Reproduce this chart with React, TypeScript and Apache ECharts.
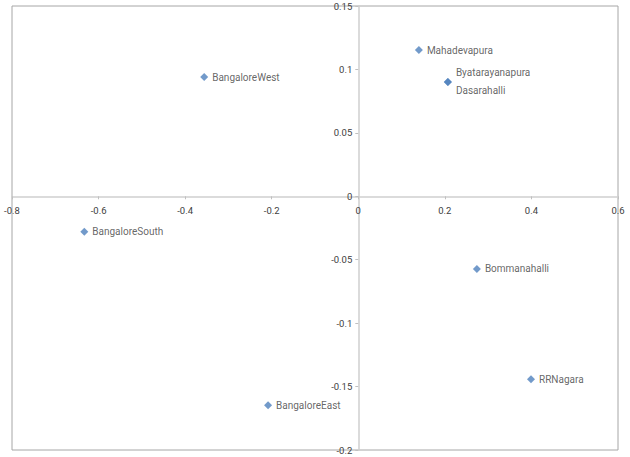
import React, { useEffect, useRef } from "react";
import * as echarts from "echarts";

const names = [
  "BangaloreWest",
  "Mahadevapura",
  "Byatarayanapura",
  "Dasarahalli",
  "BangaloreSouth",
  "Bommanahalli",
  "RRNagara",
  "BangaloreEast",
];
const xs = [-0.356, 0.14, 0.207, 0.207, -0.633, 0.274, 0.399, -0.2085];
const ys = [0.094, 0.1153, 0.09, 0.09, -0.028, -0.0573, -0.1443, -0.1647];
const labelOffsets: Record<string, [number, number]> = {
  Byatarayanapura: [0, -10],
  Dasarahalli: [0, 8],
};

const xMin = -0.8;
const xMax = 0.6;
const xStep = 0.2;
const yMin = -0.2;
const yMax = 0.15;
const yStep = 0.05;

const W = 630;
const H = 457;
const G = { left: 12, right: 12, top: 6, bottom: 7 };

export default function App() {
  const ref = useRef<HTMLDivElement>(null);
  useEffect(() => {
    if (!ref.current) return;
    const chart = echarts.init(ref.current, undefined, { renderer: "svg" });
    const font = "Roboto, 'Liberation Sans', sans-serif";
    const gw = W - G.left - G.right;
    const gh = H - G.top - G.bottom;
    // move axes to the zero crossing of the other axis
    const xAxisOffset = -(gh * (0 - yMin)) / (yMax - yMin);
    const yAxisOffset = -(gw * (0 - xMin)) / (xMax - xMin);
    const data = names.map((n, i) => ({
      name: n,
      value: [xs[i], ys[i]],
      label: labelOffsets[n] ? { offset: labelOffsets[n] } : undefined,
    }));
    const axisCommon = {
      type: "value",
      axisLine: { onZero: false, lineStyle: { color: "#cfcfcf", width: 1.5 } },
      axisTick: { show: true, length: 3, lineStyle: { color: "#c0c0c0" } },
      splitLine: { show: false },
    };
    chart.setOption({
      animation: false,
      backgroundColor: "#ffffff",
      grid: {
        ...G,
        containLabel: false,
        outerBoundsMode: "none",
        show: true,
        borderColor: "#a6a6a6",
        borderWidth: 1,
        backgroundColor: "transparent",
      },
      xAxis: {
        ...axisCommon,
        position: "bottom",
        offset: xAxisOffset,
        min: xMin,
        max: xMax,
        interval: xStep,
        axisLabel: {
          color: "#404040",
          fontSize: 9.5,
          fontFamily: font,
          margin: 9,
          showMinLabel: true,
          showMaxLabel: true,
        },
      },
      yAxis: {
        ...axisCommon,
        position: "left",
        offset: yAxisOffset,
        min: yMin,
        max: yMax,
        interval: yStep,
        axisLabel: {
          color: "#404040",
          fontSize: 9.5,
          fontFamily: font,
          margin: 6,
          showMinLabel: true,
          showMaxLabel: true,
        },
      },
      series: [
        {
          type: "scatter",
          symbol: "diamond",
          symbolSize: 8,
          itemStyle: { color: "#4F81BD" },
          label: {
            show: true,
            position: "right",
            distance: 4,
            formatter: "{b}",
            color: "#404040",
            fontSize: 10,
            fontFamily: font,
          },
          data,
        },
      ],
    });
    return () => chart.dispose();
  }, []);
  return (
    <div
      ref={ref}
      style={{ position: "absolute", left: 0, top: 0, width: W, height: H }}
    />
  );
}
